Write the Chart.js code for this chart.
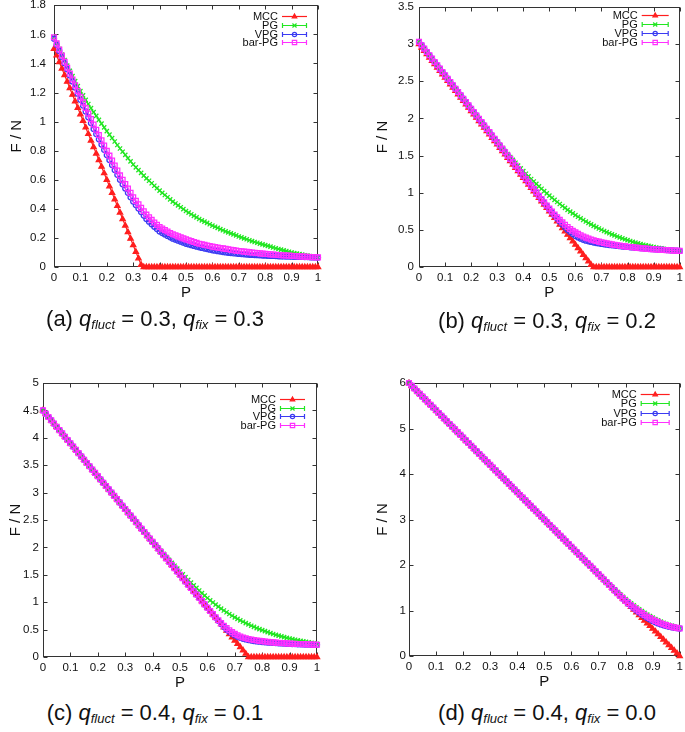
<!DOCTYPE html>
<html><head><meta charset="utf-8">
<script src="https://cdn.jsdelivr.net/npm/chart.js@4.4.1/dist/chart.umd.min.js"></script>
<style>
html,body{margin:0;padding:0;background:#fff;width:685px;height:732px;overflow:hidden;position:relative;}
canvas{position:absolute;}
.cap{position:absolute;font-family:"Liberation Sans",Arial,sans-serif;font-size:22px;color:#111;white-space:nowrap;transform:translateX(-50%);line-height:24px;height:24px;}
.cap i{font-style:italic;}
.cap sub{font-size:13px;vertical-align:-3px;font-style:italic;line-height:0;}
</style></head><body>
<canvas id="ca" width="342" height="307" style="left:0px;top:0px"></canvas>
<canvas id="cb" width="343" height="307" style="left:342px;top:0px"></canvas>
<canvas id="cc" width="342" height="337" style="left:0px;top:360px"></canvas>
<canvas id="cd" width="343" height="336" style="left:342px;top:360px"></canvas>
<div class="cap" style="left:155px;top:307px">(a) <i>q</i><sub>fluct</sub> = 0.3, <i>q</i><sub>fix</sub> = 0.3</div>
<div class="cap" style="left:547px;top:309px">(b) <i>q</i><sub>fluct</sub> = 0.3, <i>q</i><sub>fix</sub> = 0.2</div>
<div class="cap" style="left:155px;top:701px">(c) <i>q</i><sub>fluct</sub> = 0.4, <i>q</i><sub>fix</sub> = 0.1</div>
<div class="cap" style="left:547px;top:701px">(d) <i>q</i><sub>fluct</sub> = 0.4, <i>q</i><sub>fix</sub> = 0.0</div>
<script>
// ---------- data ----------
const seriesNames = ['MCC', 'PG', 'VPG', 'bar-PG'];
const xLabel = 'P';
const yLabel = 'F / N';

const P = [0,0.01,0.02,0.03,0.04,0.05,0.06,0.07,0.08,0.09,
0.1,0.11,0.12,0.13,0.14,0.15,0.16,0.17,0.18,0.19,
0.2,0.21,0.22,0.23,0.24,0.25,0.26,0.27,0.28,0.29,
0.3,0.31,0.32,0.33,0.34,0.35,0.36,0.37,0.38,0.39,
0.4,0.41,0.42,0.43,0.44,0.45,0.46,0.47,0.48,0.49,
0.5,0.51,0.52,0.53,0.54,0.55,0.56,0.57,0.58,0.59,
0.6,0.61,0.62,0.63,0.64,0.65,0.66,0.67,0.68,0.69,
0.7,0.71,0.72,0.73,0.74,0.75,0.76,0.77,0.78,0.79,
0.8,0.81,0.82,0.83,0.84,0.85,0.86,0.87,0.88,0.89,
0.9,0.91,0.92,0.93,0.94,0.95,0.96,0.97,0.98,0.99,1];

// (a) q_fluct = 0.3, q_fix = 0.3
const mccA = [1.5,1.455,1.41,1.365,1.32,1.275,1.23,1.185,1.14,1.095,
1.05,1.005,0.96,0.915,0.87,0.825,0.78,0.735,0.69,0.645,
0.6,0.555,0.51,0.465,0.42,0.375,0.33,0.285,0.24,0.195,
0.15,0.105,0.06,0.015,0,0,0,0,0,0,
0,0,0,0,0,0,0,0,0,0, 0,0,0,0,0,0,0,0,0,0,
0,0,0,0,0,0,0,0,0,0, 0,0,0,0,0,0,0,0,0,0,
0,0,0,0,0,0,0,0,0,0, 0,0,0,0,0,0,0,0,0,0, 0];
const pgA = [1.58,1.54,1.5,1.461,1.423,1.385,1.349,1.313,1.278,1.244,
1.21,1.18,1.15,1.121,1.093,1.065,1.039,1.012,0.986,0.96,
0.935,0.911,0.887,0.863,0.839,0.815,0.793,0.771,0.749,0.727,
0.705,0.685,0.666,0.647,0.628,0.61,0.593,0.576,0.559,0.542,
0.525,0.51,0.495,0.48,0.465,0.45,0.437,0.424,0.411,0.398,
0.385,0.374,0.363,0.352,0.341,0.33,0.321,0.312,0.303,0.294,
0.285,0.277,0.269,0.261,0.253,0.245,0.238,0.231,0.224,0.217,
0.21,0.204,0.197,0.191,0.184,0.178,0.172,0.167,0.161,0.156,
0.15,0.145,0.14,0.134,0.129,0.124,0.119,0.114,0.11,0.105,
0.1,0.096,0.092,0.089,0.085,0.081,0.078,0.075,0.071,0.068,0.065];
const vpgA = [1.57,1.528,1.486,1.444,1.402,1.36,1.318,1.276,1.234,1.192,
1.15,1.11,1.07,1.03,0.99,0.95,0.914,0.878,0.842,0.806,
0.77,0.736,0.702,0.668,0.634,0.6,0.57,0.54,0.51,0.48,
0.45,0.426,0.402,0.378,0.354,0.33,0.312,0.294,0.277,0.261,
0.245,0.234,0.224,0.214,0.204,0.195,0.188,0.181,0.174,0.167,
0.16,0.155,0.15,0.145,0.14,0.135,0.131,0.127,0.123,0.119,
0.115,0.112,0.109,0.106,0.103,0.1,0.098,0.096,0.094,0.092,
0.09,0.089,0.087,0.086,0.084,0.083,0.082,0.081,0.08,0.079,
0.078,0.077,0.076,0.076,0.075,0.074,0.073,0.073,0.072,0.072,
0.071,0.07,0.07,0.069,0.069,0.068,0.068,0.067,0.066,0.066,0.065];
const barA = [1.58,1.538,1.496,1.454,1.412,1.37,1.33,1.29,1.25,1.21,
1.17,1.132,1.094,1.056,1.018,0.98,0.944,0.908,0.872,0.836,
0.8,0.766,0.732,0.698,0.664,0.63,0.6,0.57,0.54,0.51,
0.48,0.455,0.431,0.407,0.383,0.36,0.342,0.324,0.306,0.29,
0.275,0.264,0.254,0.244,0.234,0.225,0.218,0.211,0.204,0.197,
0.19,0.184,0.178,0.172,0.166,0.16,0.156,0.152,0.148,0.144,
0.14,0.137,0.134,0.131,0.128,0.125,0.122,0.119,0.116,0.113,
0.11,0.108,0.106,0.104,0.102,0.1,0.098,0.096,0.094,0.092,
0.09,0.089,0.087,0.086,0.084,0.083,0.082,0.08,0.079,0.078,
0.077,0.076,0.075,0.073,0.072,0.071,0.07,0.069,0.068,0.067,0.066];

// (b) q_fluct = 0.3, q_fix = 0.2
const mccB = [3,2.955,2.91,2.865,2.82,2.775,2.73,2.685,2.64,2.595,
2.55,2.505,2.46,2.415,2.37,2.325,2.28,2.235,2.19,2.145,
2.1,2.055,2.01,1.965,1.92,1.875,1.83,1.785,1.74,1.695,
1.65,1.605,1.56,1.515,1.47,1.425,1.38,1.335,1.29,1.245,
1.2,1.155,1.11,1.065,1.02,0.975,0.93,0.885,0.84,0.795,
0.75,0.705,0.66,0.615,0.57,0.525,0.48,0.435,0.39,0.345,
0.3,0.255,0.21,0.165,0.12,0.075,0.03,0,0,0,
0,0,0,0,0,0,0,0,0,0, 0,0,0,0,0,0,0,0,0,0,
0,0,0,0,0,0,0,0,0,0, 0];
const pgB = [3.03,2.985,2.94,2.895,2.85,2.805,2.76,2.715,2.67,2.625,
2.58,2.535,2.49,2.445,2.4,2.355,2.31,2.265,2.22,2.175,
2.13,2.085,2.04,1.995,1.95,1.905,1.861,1.817,1.773,1.73,
1.687,1.645,1.603,1.562,1.521,1.481,1.442,1.403,1.365,1.328,
1.291,1.255,1.22,1.185,1.151,1.118,1.085,1.053,1.022,0.991,
0.961,0.932,0.903,0.875,0.848,0.821,0.795,0.77,0.745,0.721,
0.698,0.676,0.654,0.633,0.612,0.592,0.573,0.554,0.536,0.518,
0.501,0.485,0.469,0.454,0.439,0.425,0.411,0.398,0.385,0.373,
0.361,0.35,0.339,0.329,0.319,0.309,0.3,0.292,0.284,0.276,
0.269,0.262,0.256,0.25,0.244,0.239,0.234,0.229,0.225,0.221,0.217];
const barB = [3.03,2.985,2.94,2.895,2.85,2.805,2.76,2.715,2.67,2.625,
2.58,2.535,2.49,2.445,2.4,2.355,2.31,2.265,2.22,2.175,
2.13,2.085,2.04,1.995,1.95,1.905,1.86,1.815,1.77,1.725,
1.68,1.635,1.59,1.545,1.5,1.455,1.41,1.365,1.32,1.275,
1.23,1.185,1.14,1.095,1.05,1.005,0.96,0.915,0.871,0.828,
0.786,0.746,0.707,0.67,0.634,0.6,0.568,0.539,0.512,0.488,
0.466,0.446,0.428,0.411,0.396,0.383,0.371,0.36,0.35,0.341,
0.333,0.325,0.318,0.311,0.305,0.299,0.293,0.288,0.283,0.278,
0.273,0.269,0.265,0.261,0.257,0.253,0.25,0.247,0.244,0.241,
0.238,0.235,0.233,0.231,0.229,0.227,0.225,0.223,0.221,0.219,0.217];
const vpgBTail = [1.0,0.955,0.91,0.865,0.821,
0.777,0.735,0.694,0.652,0.612,0.573,0.536,0.502,0.471,0.443,
0.418,0.398,0.381,0.367,0.355,0.345,0.337,0.33,0.323,0.317,
0.311,0.306,0.301,0.296,0.292,0.288,0.284,0.28,0.276,0.273,
0.27,0.266,0.263,0.26,0.257,0.254,0.251,0.248,0.245,0.242,
0.24,0.237,0.235,0.232,0.23,0.228,0.226,0.223,0.221,0.219,0.217];
const vpgB = barB.slice(0, 45).concat(vpgBTail);

// (c) q_fluct = 0.4, q_fix = 0.1
const mccC = [4.5,4.44,4.38,4.32,4.26,4.2,4.14,4.08,4.02,3.96,
3.9,3.84,3.78,3.72,3.66,3.6,3.54,3.48,3.42,3.36,
3.3,3.24,3.18,3.12,3.06,3,2.94,2.88,2.82,2.76,
2.7,2.64,2.58,2.52,2.46,2.4,2.34,2.28,2.22,2.16,
2.1,2.04,1.98,1.92,1.86,1.8,1.74,1.68,1.62,1.56,
1.5,1.44,1.38,1.32,1.26,1.2,1.14,1.08,1.02,0.96,
0.9,0.84,0.78,0.72,0.66,0.6,0.54,0.48,0.42,0.36,
0.3,0.24,0.18,0.12,0.06,0,0,0,0,0,
0,0,0,0,0,0,0,0,0,0, 0,0,0,0,0,0,0,0,0,0, 0];
const pgCTail = [2.342,2.283,2.225,2.167,
2.109,2.052,1.995,1.939,1.883,1.828,1.773,1.719,1.665,1.612,
1.56,1.508,1.457,1.407,1.357,1.308,1.26,1.213,1.167,1.121,
1.077,1.034,0.994,0.956,0.919,0.883,0.849,0.816,0.784,0.753,
0.724,0.696,0.669,0.643,0.618,0.594,0.571,0.549,0.528,0.508,
0.489,0.471,0.453,0.436,0.42,0.405,0.39,0.376,0.363,0.35,
0.338,0.326,0.315,0.304,0.294,0.284,0.275,0.266,0.257,0.249,0.241];
const vpgCTail = [0.9,0.84,0.78,0.72,0.66,0.603,0.55,0.502,0.46,0.424,
0.394,0.369,0.349,0.333,0.32,0.309,0.3,0.292,0.285,0.279,
0.274,0.269,0.265,0.261,0.257,0.254,0.251,0.248,0.245,0.242,
0.24,0.237,0.235,0.233,0.231,0.229,0.228,0.226,0.225,0.223,0.222];
const barCTail = [0.9,0.84,0.782,0.725,0.67,0.618,0.57,0.527,0.488,0.453,
0.422,0.396,0.374,0.356,0.341,0.329,0.319,0.31,0.302,0.295,
0.289,0.283,0.277,0.272,0.267,0.263,0.259,0.255,0.252,0.249,
0.246,0.243,0.24,0.238,0.236,0.234,0.232,0.23,0.228,0.226,0.224];
const pgC = mccC.slice(0, 36).concat(pgCTail);
const vpgC = mccC.slice(0, 60).concat(vpgCTail);
const barC = mccC.slice(0, 60).concat(barCTail);

// (d) q_fluct = 0.4, q_fix = 0.0
const mccD = [6,5.94,5.88,5.82,5.76,5.7,5.64,5.58,5.52,5.46,
5.4,5.34,5.28,5.22,5.16,5.1,5.04,4.98,4.92,4.86,
4.8,4.74,4.68,4.62,4.56,4.5,4.44,4.38,4.32,4.26,
4.2,4.14,4.08,4.02,3.96,3.9,3.84,3.78,3.72,3.66,
3.6,3.54,3.48,3.42,3.36,3.3,3.24,3.18,3.12,3.06,
3,2.94,2.88,2.82,2.76,2.7,2.64,2.58,2.52,2.46,
2.4,2.34,2.28,2.22,2.16,2.1,2.04,1.98,1.92,1.86,
1.8,1.74,1.68,1.62,1.56,1.5,1.44,1.38,1.32,1.26,
1.2,1.14,1.08,1.02,0.96,0.9,0.84,0.78,0.72,0.66,
0.6,0.54,0.48,0.42,0.36,0.3,0.24,0.18,0.12,0.06,0];
const pgDTail = [1.81,1.75,1.69,1.632,1.575,1.52,1.465,1.41,1.356,1.303,
1.25,1.203,1.157,1.112,1.068,1.025,0.985,0.947,0.91,0.875,
0.842,0.811,0.782,0.755,0.73,0.707,0.686,0.667,0.649,0.632,0.616];
const vpgDTail = [1.8,1.74,1.68,1.62,1.56,1.5,1.44,1.38,1.32,1.262,
1.205,1.15,1.098,1.048,1,0.955,0.912,0.872,0.835,0.8,
0.768,0.74,0.715,0.693,0.674,0.657,0.643,0.631,0.621,0.612,0.604];
const barDTail = [1.8,1.74,1.68,1.62,1.56,1.5,1.44,1.38,1.322,1.266,
1.212,1.162,1.114,1.068,1.024,0.982,0.942,0.904,0.868,0.834,
0.802,0.772,0.745,0.72,0.698,0.678,0.66,0.644,0.63,0.617,0.605];
const pgD = mccD.slice(0, 70).concat(pgDTail);
const vpgD = mccD.slice(0, 70).concat(vpgDTail);
const barD = mccD.slice(0, 70).concat(barDTail);

// y-axis tick settings per panel
const yMaxA = 1.8, yStepA = 0.2;
const yMaxB = 3.5, yStepB = 0.5;
const yMaxC = 5,   yStepC = 0.5;
const yMaxD = 6,   yStepD = 1;

// ---------- rendering ----------
const FONT = '"Liberation Sans", Arial, Helvetica, sans-serif';
Chart.defaults.font.family = FONT;
Chart.defaults.color = '#111';

const STYLES = [
  {color:'#ff1e1e', point:'triangle', radius:3.0, fill:true,  caps:false, order:4},
  {color:'#22e622', point:'crossRot', radius:3.0, fill:false, caps:true,  order:3},
  {color:'#3b3bf2', point:'circle',   radius:2.5, fill:false, caps:true,  order:2},
  {color:'#ff30ff', point:'rect',     radius:3.4, fill:false, caps:true,  order:1}
];

function fmt(v) { return String(Number(v.toFixed(3))); }

function drawMarker(ctx, st, x, y, r, col, fill) {
  ctx.save();
  ctx.strokeStyle = col; ctx.fillStyle = col; ctx.lineWidth = 1.2;
  ctx.beginPath();
  if (st === 'triangle') {
    ctx.moveTo(x, y - r); ctx.lineTo(x + r * 0.87, y + r * 0.5); ctx.lineTo(x - r * 0.87, y + r * 0.5); ctx.closePath();
    if (fill) ctx.fill(); ctx.stroke();
  } else if (st === 'crossRot') {
    const d = r * 0.8;
    ctx.moveTo(x - d, y - d); ctx.lineTo(x + d, y + d); ctx.moveTo(x - d, y + d); ctx.lineTo(x + d, y - d); ctx.stroke();
  } else if (st === 'circle') {
    ctx.arc(x, y, r, 0, Math.PI * 2); ctx.stroke();
  } else {
    const s = r * 0.75; ctx.rect(x - s, y - s, 2 * s, 2 * s); ctx.stroke();
  }
  ctx.restore();
}

const framePlugin = {
  id: 'gpFrame',
  beforeDatasetsDraw(chart) {
    const {ctx, chartArea: a, scales: {x, y}} = chart;
    const L = Math.round(a.left) + 0.5, R = Math.round(a.right) - 0.5;
    const T = Math.round(a.top) + 0.5, B = Math.round(a.bottom) - 0.5;
    ctx.save();
    ctx.strokeStyle = '#333'; ctx.lineWidth = 1;
    ctx.strokeRect(L, T, R - L, B - T);
    ctx.beginPath();
    const tl = 4;
    x.ticks.forEach(t => {
      const px = Math.round(x.getPixelForValue(t.value)) + 0.5;
      ctx.moveTo(px, B); ctx.lineTo(px, B - tl);
      ctx.moveTo(px, T); ctx.lineTo(px, T + tl);
    });
    y.ticks.forEach(t => {
      const py = Math.round(y.getPixelForValue(t.value)) + 0.5;
      ctx.moveTo(L, py); ctx.lineTo(L + tl, py);
      ctx.moveTo(R, py); ctx.lineTo(R - tl, py);
    });
    ctx.stroke();
    ctx.restore();
  }
};

const legendPlugin = {
  id: 'gpLegend',
  afterDatasetsDraw(chart, args, opts) {
    const {ctx, chartArea: a} = chart;
    const x2 = a.right - opts.right, x1 = x2 - opts.len, xm = (x1 + x2) / 2;
    ctx.save();
    ctx.font = '11px ' + FONT;
    ctx.textAlign = 'right'; ctx.textBaseline = 'middle';
    chart.data.datasets.forEach((ds, i) => {
      const st = STYLES[i];
      const yy = Math.round(a.top + opts.top + i * opts.gap) + 0.5;
      ctx.fillStyle = '#111';
      ctx.fillText(ds.label, x1 - 4, yy + 0.5);
      ctx.strokeStyle = st.color; ctx.lineWidth = 1.2;
      ctx.beginPath(); ctx.moveTo(x1, yy); ctx.lineTo(x2, yy);
      if (st.caps) { ctx.moveTo(x1 + 0.5, yy - 2.5); ctx.lineTo(x1 + 0.5, yy + 2.5); ctx.moveTo(x2 - 0.5, yy - 2.5); ctx.lineTo(x2 - 0.5, yy + 2.5); }
      ctx.stroke();
      drawMarker(ctx, st.point, xm, yy, st.radius * 0.85, st.color, st.fill);
    });
    ctx.restore();
  }
};

function makeChart(id, series, yMax, yStep, g) {
  const datasets = series.map((vals, i) => {
    const st = STYLES[i];
    return {
      label: seriesNames[i],
      data: P.map((x, k) => ({x: x, y: vals[k]})),
      showLine: true,
      borderColor: st.color,
      backgroundColor: st.fill ? st.color : 'rgba(0,0,0,0)',
      borderWidth: 1.2,
      pointStyle: st.point,
      pointRadius: st.radius,
      pointBorderWidth: 1.3,
      pointBorderColor: st.color,
      pointBackgroundColor: st.fill ? st.color : 'rgba(0,0,0,0)',
      tension: 0,
      order: st.order,
      clip: 6
    };
  });
  return new Chart(document.getElementById(id), {
    type: 'scatter',
    data: {datasets},
    options: {
      responsive: false, animation: false, devicePixelRatio: 1, events: [],
      layout: {padding: {left: 0, top: g.top, right: g.right, bottom: 0}},
      plugins: {legend: {display: false}, tooltip: {enabled: false},
        gpLegend: g.legend},
      scales: {
        x: {
          type: 'linear', position: 'bottom', min: 0, max: 1,
          ticks: {stepSize: 0.1, padding: 4, maxRotation: 0, autoSkip: false, color: '#111', font: {size: 11.5}, callback: fmt},
          grid: {display: false, drawTicks: false}, border: {display: false},
          title: {display: true, text: xLabel, color: '#111', font: {size: 15}, padding: {top: 0, bottom: 5}},
          afterFit(s) { s.height = 40; s.paddingLeft = 0; s.paddingRight = 0; }
        },
        y: {
          type: 'linear', position: 'left', min: 0, max: yMax,
          ticks: {stepSize: yStep, padding: g.tickPad, color: '#111', font: {size: 11.5}, callback: fmt},
          grid: {display: false, drawTicks: false}, border: {display: false},
          title: {display: true, text: yLabel, color: '#111', font: {size: 15}, padding: {top: g.titlePad, bottom: 0}},
          afterFit(s) { s.width = g.yW; s.paddingTop = 0; s.paddingBottom = 0; }
        }
      }
    },
    plugins: [framePlugin, legendPlugin]
  });
}

makeChart('ca', [mccA, pgA, vpgA, barA], yMaxA, yStepA,
  {top: 4, right: 24, yW: 54, tickPad: 8, titlePad: 8, legend: {top: 11, right: 11, len: 25, gap: 8.7}});
makeChart('cb', [mccB, pgB, vpgB, barB], yMaxB, yStepB,
  {top: 7, right: 2, yW: 77, tickPad: 5, titlePad: 32, legend: {top: 8, right: 11, len: 27, gap: 9}});
makeChart('cc', [mccC, pgC, vpgC, barC], yMaxC, yStepC,
  {top: 23, right: 25, yW: 43, tickPad: 4, titlePad: 7, legend: {top: 16, right: 12, len: 25, gap: 8.7}});
makeChart('cd', [mccD, pgD, vpgD, barD], yMaxD, yStepD,
  {top: 23, right: 3, yW: 67, tickPad: 3, titlePad: 32, legend: {top: 11, right: 10, len: 29, gap: 9.3}});
</script>
</body></html>
